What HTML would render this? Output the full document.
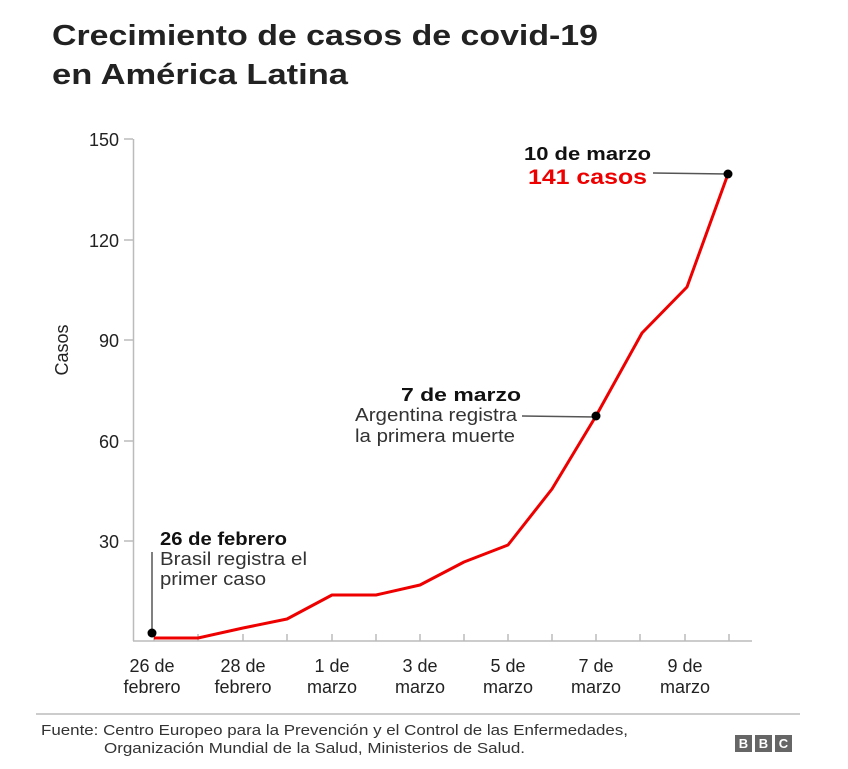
<!DOCTYPE html>
<html><head><meta charset="utf-8"><style>
body{margin:0;background:#fff;}
svg{display:block;font-family:"Liberation Sans",Arial,sans-serif;}
</style></head><body>
<svg width="848" height="769" viewBox="0 0 848 769">
<text x="52" y="45" font-size="29" font-weight="bold" fill="#222" textLength="546" lengthAdjust="spacingAndGlyphs">Crecimiento de casos de covid-19</text>
<text x="52" y="84" font-size="29" font-weight="bold" fill="#222" textLength="296" lengthAdjust="spacingAndGlyphs">en América Latina</text>
<g font-size="18" fill="#222" text-anchor="end">
<text x="119" y="146">150</text><text x="119" y="247">120</text><text x="119" y="347">90</text><text x="119" y="448">60</text><text x="119" y="548">30</text>
</g>
<g stroke="#bbb" stroke-width="1.5">
<line x1="133.5" y1="139" x2="133.5" y2="641"/>
<line x1="133" y1="641" x2="752" y2="641"/>
<line x1="124" y1="139" x2="133" y2="139"/><line x1="124" y1="240" x2="133" y2="240"/><line x1="124" y1="340" x2="133" y2="340"/><line x1="124" y1="441" x2="133" y2="441"/><line x1="124" y1="541" x2="133" y2="541"/>
<line x1="154" y1="634" x2="154" y2="641"/><line x1="198" y1="634" x2="198" y2="641"/><line x1="243" y1="634" x2="243" y2="641"/><line x1="287" y1="634" x2="287" y2="641"/><line x1="332" y1="634" x2="332" y2="641"/><line x1="376" y1="634" x2="376" y2="641"/><line x1="420" y1="634" x2="420" y2="641"/><line x1="464" y1="634" x2="464" y2="641"/><line x1="508" y1="634" x2="508" y2="641"/><line x1="552" y1="634" x2="552" y2="641"/><line x1="596" y1="634" x2="596" y2="641"/><line x1="640" y1="634" x2="640" y2="641"/><line x1="685" y1="634" x2="685" y2="641"/><line x1="729" y1="634" x2="729" y2="641"/>
</g>
<text transform="translate(68,350) rotate(-90)" font-size="18" fill="#222" text-anchor="middle">Casos</text>
<g font-size="18" fill="#222" text-anchor="middle">
<text x="152" y="672">26 de</text><text x="152" y="693">febrero</text>
<text x="243" y="672">28 de</text><text x="243" y="693">febrero</text>
<text x="332" y="672">1 de</text><text x="332" y="693">marzo</text>
<text x="420" y="672">3 de</text><text x="420" y="693">marzo</text>
<text x="508" y="672">5 de</text><text x="508" y="693">marzo</text>
<text x="596" y="672">7 de</text><text x="596" y="693">marzo</text>
<text x="685" y="672">9 de</text><text x="685" y="693">marzo</text>
</g>
<polyline fill="none" stroke="#e00" stroke-width="3" stroke-linejoin="round" points="154,638 198,638 243,628 287,619 332,595 376,595 420,585 464,562 508,545 552,489 596,416 642,333 687,287 728,174"/>
<line x1="152" y1="552" x2="152" y2="632" stroke="#555" stroke-width="1.5"/>
<line x1="522" y1="416" x2="596" y2="417" stroke="#555" stroke-width="1.5"/>
<line x1="653" y1="173" x2="728" y2="174" stroke="#555" stroke-width="1.5"/>
<circle cx="152" cy="633" r="4.5" fill="#000"/>
<circle cx="596" cy="416" r="4.5" fill="#000"/>
<circle cx="728" cy="174" r="4.5" fill="#000"/>
<text x="160" y="545" font-size="18" font-weight="bold" fill="#111" textLength="127" lengthAdjust="spacingAndGlyphs">26 de febrero</text>
<text x="160" y="565" font-size="18" fill="#333" textLength="147" lengthAdjust="spacingAndGlyphs">Brasil registra el</text>
<text x="160" y="585" font-size="18" fill="#333" textLength="106" lengthAdjust="spacingAndGlyphs">primer caso</text>
<text x="401" y="401" font-size="18" font-weight="bold" fill="#111" textLength="120" lengthAdjust="spacingAndGlyphs">7 de marzo</text>
<text x="355" y="421" font-size="18" fill="#333" textLength="162" lengthAdjust="spacingAndGlyphs">Argentina registra</text>
<text x="355" y="442" font-size="18" fill="#333" textLength="160" lengthAdjust="spacingAndGlyphs">la primera muerte</text>
<text x="524" y="160" font-size="18" font-weight="bold" fill="#111" textLength="127" lengthAdjust="spacingAndGlyphs">10 de marzo</text>
<text x="528" y="184" font-size="21" font-weight="bold" fill="#e00" textLength="119" lengthAdjust="spacingAndGlyphs">141 casos</text>
<line x1="36" y1="714" x2="800" y2="714" stroke="#999" stroke-width="1"/>
<text x="41" y="735" font-size="15" fill="#333" textLength="587" lengthAdjust="spacingAndGlyphs">Fuente: Centro Europeo para la Prevención y el Control de las Enfermedades,</text>
<text x="104" y="753" font-size="15" fill="#333" textLength="421" lengthAdjust="spacingAndGlyphs">Organización Mundial de la Salud, Ministerios de Salud.</text>
<g font-size="13" font-weight="bold" fill="#fff" text-anchor="middle">
<rect x="735" y="735" width="17" height="17" fill="#666"/><text x="743.5" y="748">B</text>
<rect x="755" y="735" width="17" height="17" fill="#666"/><text x="763.5" y="748">B</text>
<rect x="775" y="735" width="17" height="17" fill="#666"/><text x="783.5" y="748">C</text>
</g>
</svg>
</body></html>
